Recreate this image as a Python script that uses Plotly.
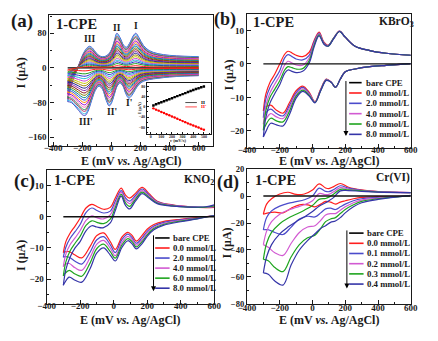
import plotly.graph_objects as go

W, H = 438, 341
SERIF = "Liberation Serif, Times New Roman, serif"
INK = "#1a1a1a"

# ---------------- (a) CVs at scan rates 25-500 mV/s ----------------
a_scan_rates = [25, 50, 75, 100, 125, 150, 175, 200, 225, 250,
                275, 300, 325, 350, 375, 400, 425, 450, 475, 500]
a_ipa_II = [5, 10, 14, 18, 22, 26, 30, 34, 38, 42, 46, 50, 54, 58, 62, 66, 70, 73, 77, 80]
a_ipc_II = [-6, -11, -15, -20, -24, -29, -33, -38, -42, -47, -51, -56, -60, -65, -69, -73, -77, -81, -86, -90]
# outermost voltammogram (500 mV/s)
a_up_x = [-300, -290, -270, -245, -220, -190, -165, -150, -130, -105, -75, -50, -25, 0, 20, 38,
          60, 85, 105, 130, 150, 168, 190, 220, 260, 320, 400, 500, 600]
a_up_y = [-78, -60, -35, -12, 10, 35, 47, 50, 46, 35, 27, 26, 30, 42, 62, 80,
          70, 52, 48, 60, 74, 80, 70, 52, 40, 33, 29, 27, 26]
a_down_x = [600, 500, 400, 320, 260, 220, 190, 165, 140, 120, 100, 80, 60, 40, 20, 0, -15, -35,
            -60, -85, -110, -135, -160, -180, -200, -225, -250, -275, -300]
a_down_y = [-18, -19, -21, -24, -27, -31, -38, -50, -64, -70, -60, -42, -35, -42, -62, -82, -88, -75,
            -50, -42, -52, -75, -100, -110, -108, -98, -88, -80, -78]
a_colors = ["#FF1A1A", "#1E9E1E", "#2F2FD0", "#20B8D8", "#D040D0", "#C8C800", "#A08000",
            "#20208A", "#8A2BB0", "#8B1A1A", "#7A7A00", "#008B8B", "#3050E0", "#FF8C00",
            "#9400D3", "#FF69B4", "#2E8B57", "#B03060", "#3CB8E8", "#4646C8"]

# ---------------- (b) KBrO3 ----------------
b_labels = ["0.0 mmol/L", "2.0 mmol/L", "4.0 mmol/L", "6.0 mmol/L", "8.0 mmol/L"]
b_up_x = [-300, -285, -260, -230, -200, -170, -150, -125, -100, -60, -20, 10, 40, 70, 95, 130,
          165, 200, 260, 350, 450, 600]
b_up_y = [
    [-14, -9, -5.5, -3, 0, 2.9, 3.8, 3.3, 2.6, 2.2, 3.5, 7, 9.5, 6.5, 5.6, 7.8, 9.8, 8, 5.3, 4, 3.2, 2.6],
    [-16, -10.5, -7, -4.5, -2, 1.8, 2.8, 2.2, 1.5, 1.2, 2.6, 6.6, 9.2, 6.3, 5.5, 7.8, 9.8, 8, 5.3, 4, 3.2, 2.6],
    [-18, -12.5, -8.7, -6, -3.5, -0.3, 0.8, 0.3, -0.3, -0.4, 1.8, 6.1, 9.0, 6.1, 5.4, 7.7, 9.7, 8, 5.3, 4, 3.2, 2.6],
    [-19.8, -14, -10, -7.5, -5, -1.8, -0.8, -1.1, -1.5, -1.4, 1.0, 5.6, 8.7, 6.0, 5.3, 7.7, 9.7, 8, 5.3, 4, 3.2, 2.6],
    [-21.8, -16, -11.7, -8.8, -6.2, -2.8, -1.8, -2.2, -2.6, -2.2, 0.3, 5.1, 8.4, 5.9, 5.3, 7.6, 9.7, 8, 5.3, 4, 3.2, 2.6],
]
b_down_x = [600, 450, 350, 260, 200, 170, 140, 115, 85, 50, 15, -20, -60, -100, -140, -180, -220,
            -255, -285, -300]
b_down_y = [
    [0.1, -0.4, -0.8, -1.5, -2.3, -4.5, -7, -5.5, -4.5, -7.5, -11.3, -8.5, -6.6, -8, -11.5, -14.7, -13.8, -12.3, -12.8, -14],
    [0.1, -0.4, -0.8, -1.5, -2.3, -4.5, -7, -5.5, -4.6, -7.7, -11.4, -8.8, -7.0, -8.6, -12.3, -15.5, -14.8, -13.5, -14.6, -16],
    [0.1, -0.4, -0.8, -1.5, -2.3, -4.5, -7, -5.5, -4.7, -7.8, -11.4, -9.0, -7.4, -9.1, -13.0, -16.3, -15.8, -14.8, -16.5, -18],
    [0.1, -0.4, -0.8, -1.5, -2.3, -4.5, -7, -5.5, -4.8, -7.9, -11.5, -9.3, -7.8, -9.6, -14.0, -17.3, -17.0, -16.2, -18.2, -19.8],
    [0.1, -0.4, -0.8, -1.5, -2.3, -4.5, -7, -5.5, -4.9, -8.0, -11.6, -9.6, -8.2, -10.2, -15.0, -18.5, -18.2, -17.7, -20.2, -21.8],
]

# ---------------- (c) KNO2 ----------------
c_labels = ["0.0 mmol/L", "2.0 mmol/L", "4.0 mmol/L", "6.0 mmol/L", "8.0 mmol/L"]
c_up_x = [-300, -285, -260, -230, -200, -165, -130, -100, -60, -20, 10, 45, 70, 95, 130, 170,
          210, 260, 350, 450, 550, 600]
c_up_y = [
    [-11.5, -8, -5.3, -3, -0.5, 2.8, 4.0, 3.3, 2.4, 3, 6, 9.2, 7, 6, 7.5, 9.4, 7.5, 5, 3.8, 3.2, 2.9, 3.0],
    [-13, -9.8, -7, -4.8, -2.5, 1.3, 2.8, 2.0, 1.2, 1.8, 5, 8.4, 6.1, 5, 6.8, 8.9, 7.1, 4.8, 3.7, 3.2, 3.0, 3.2],
    [-16, -12, -9, -6.8, -4.5, -1.2, 0.3, -0.3, -0.7, 0.6, 4, 7.8, 5.3, 4.2, 6.2, 8.4, 6.7, 4.6, 3.6, 3.2, 3.0, 3.3],
    [-19, -14.5, -11, -8.5, -6.3, -2.8, -1.3, -1.8, -2.2, -0.8, 3, 7.2, 4.5, 3.3, 5.6, 7.9, 6.3, 4.4, 3.5, 3.1, 3.1, 3.5],
    [-22, -17, -13, -10, -8, -4.5, -2.9, -3.3, -3.5, -2.0, 2, 6.6, 3.7, 2.5, 5.0, 7.4, 6.0, 4.2, 3.4, 3.1, 3.2, 3.8],
]
c_down_x = [600, 500, 400, 300, 240, 200, 170, 135, 110, 85, 50, 10, -20, -60, -100, -140, -190,
            -230, -265, -290, -300]
c_down_y = [
    [0.4, -0.3, -0.8, -1.5, -2.5, -4, -6, -7.8, -6, -5, -6.5, -10.5, -8, -5.2, -6, -9.5, -13.2, -12.3, -11.2, -11.3, -11.5],
    [0.4, -0.4, -1, -1.8, -3, -4.7, -6.8, -8.5, -6.7, -5.6, -7.3, -11.5, -9, -6.4, -7.4, -11.3, -15.2, -14.3, -13, -12.8, -13],
    [0.4, -0.5, -1.2, -2.1, -3.4, -5.2, -7.4, -9.1, -7.3, -6.3, -8.2, -12.5, -10.1, -7.6, -8.8, -13, -17.2, -16.4, -15, -15.3, -16],
    [0.4, -0.6, -1.4, -2.4, -3.8, -5.8, -8.0, -9.7, -8, -7, -9, -13.3, -11.2, -8.8, -10.2, -14.8, -19.1, -18.4, -17.2, -18.2, -19],
    [0.4, -0.7, -1.6, -2.7, -4.2, -6.3, -8.6, -10.3, -8.7, -7.7, -9.8, -14.2, -12.3, -10, -11.6, -16.6, -21.0, -20.4, -19.4, -21, -22],
]

# ---------------- (d) Cr(VI) ----------------
d_labels = ["0.0 mmol/L", "0.1 mmol/L", "0.2 mmol/L", "0.3 mmol/L", "0.4 mmol/L"]
d_up_x = [-300, -280, -250, -200, -150, -100, -50, 0, 40, 80, 100, 130, 170, 220, 300, 400, 600]
d_up_y = [
    [-13.5, -6, -2, 1.5, 2.8, 1.2, 1.5, 4.5, 9, 6, 5.5, 7, 9.3, 6.5, 4.5, 3.3, 2.5],
    [-25, -16, -11, -7.5, -5.5, -4.2, -2.8, 0, 5.8, 3.5, 3.2, 4.8, 7.6, 5.8, 4.2, 3.2, 2.5],
    [-36, -26, -19, -13.5, -10.5, -8.5, -6.5, -3.5, 1.8, 1.0, 1.2, 3.2, 6.2, 5.2, 4.0, 3.1, 2.5],
    [-47, -35, -27, -20.5, -16.5, -13.5, -10.5, -7, -2.5, -1.8, -0.8, 1.5, 4.9, 4.6, 3.8, 3.0, 2.5],
    [-57, -45, -36, -28, -23, -19, -15.5, -11.5, -7.5, -5, -3.5, -1, 3.8, 4.0, 3.5, 2.9, 2.5],
]
d_down_x = [600, 400, 300, 250, 200, 170, 140, 110, 80, 50, 15, -30, -80, -130, -180, -230, -270, -300]
d_down_y = [
    [0, -0.5, -1, -2, -3.5, -4.5, -6, -4.5, -4, -6, -8, -6.5, -6.5, -9, -12.5, -12, -12.5, -13.5],
    [0, -1, -2, -3.5, -6, -8, -10, -9, -9.5, -12.5, -15.5, -15, -17, -23, -28.5, -27, -25, -25],
    [0.3, -1.5, -3, -5, -8, -10.5, -13, -13, -14, -18, -22, -23, -27, -35, -44, -42, -38, -36],
    [0.3, -2, -4, -6.5, -10, -13, -16, -17, -19, -24, -29, -31, -36, -45, -56, -53, -48, -47],
    [0.5, -2.5, -5, -8, -12.5, -16, -18.5, -19.5, -22, -24, -28, -33, -40, -51, -66, -63, -58, -57],
]

bare_x = [-300, 600]
bare_y = [0, 0]
series_colors = ["#FF1E1E", "#4B4BCB", "#D25AD2", "#1FA51F", "#3535A8"]

# ---------------- helpers ----------------
def px_x(x):
    return x / W


def px_y(y):
    return 1 - y / H


fig = go.Figure()

AX = {"a": ("x", "y"), "b": ("x2", "y2"), "c": ("x3", "y3"), "d": ("x4", "y4"), "i": ("x5", "y5")}


def line(panel, x, y, color, width=1.1):
    xa, ya = AX[panel]
    fig.add_trace(go.Scatter(x=x, y=y, mode="lines", xaxis=xa, yaxis=ya,
                             line=dict(color=color, width=width, shape="spline", smoothing=1.0),
                             showlegend=False, hoverinfo="skip"))


# (a)
line("a", bare_x, bare_y, "#000000", 1.3)
ref = a_ipa_II[-1]
for i in range(len(a_scan_rates) - 1, -1, -1):
    s = a_ipa_II[i] / ref
    line("a", a_up_x, [v * s for v in a_up_y], a_colors[i], 1.0)
    line("a", a_down_x, [v * s for v in a_down_y], a_colors[i], 1.0)

# (b), (c), (d)
for panel, ux, uy, dx, dy in (("b", b_up_x, b_up_y, b_down_x, b_down_y),
                              ("c", c_up_x, c_up_y, c_down_x, c_down_y),
                              ("d", d_up_x, d_up_y, d_down_x, d_down_y)):
    for k in range(len(uy)):
        line(panel, ux, uy[k], series_colors[k], 1.2)
        line(panel, dx, dy[k], series_colors[k], 1.2)
    line(panel, bare_x, bare_y, "#111111", 1.3)

# inset
fig.add_trace(go.Scatter(x=a_scan_rates, y=a_ipa_II, mode="lines+markers", xaxis="x5", yaxis="y5",
                         line=dict(color="#000000", width=0.7),
                         marker=dict(symbol="square", size=2.4, color="#000000"),
                         showlegend=False, hoverinfo="skip"))
fig.add_trace(go.Scatter(x=a_scan_rates, y=a_ipc_II, mode="lines+markers", xaxis="x5", yaxis="y5",
                         line=dict(color="#FF0000", width=0.7),
                         marker=dict(symbol="circle", size=2.4, color="#FF0000"),
                         showlegend=False, hoverinfo="skip"))

# ---------------- axes ----------------
def axis(domain, rng, tick0, dtick, mdtick, anchor, fsize=9, tlen=4, standoff=0):
    return dict(domain=domain, range=rng, anchor=anchor, tickmode="linear", tick0=tick0, dtick=dtick,
                showline=True, linecolor=INK, linewidth=1.2, mirror=True, ticks="inside",
                ticklen=tlen, tickwidth=1, tickcolor=INK, ticklabelstandoff=standoff,
                minor=dict(ticks="inside", ticklen=tlen / 2, dtick=mdtick, tickcolor=INK, tickwidth=0.8),
                showgrid=False, zeroline=False,
                tickfont=dict(family=SERIF, size=fsize, color=INK, weight="bold"))


def dx_(l, r):
    return [l / W, r / W]


def dy_(t, b):
    return [1 - b / H, 1 - t / H]


fig.update_layout(
    xaxis=axis(dx_(42, 212), [-425, 700], -400, 200, 100, "y", standoff=-7),
    yaxis=axis(dy_(10, 145), [-180, 123], -160, 80, 40, "x"),
    xaxis2=axis(dx_(247, 417), [-400, 600], -400, 200, 100, "y2", standoff=-7),
    yaxis2=axis(dy_(9, 147), [-25, 15], -20, 10, 5, "x2"),
    xaxis3=axis(dx_(39, 213), [-400, 600], -400, 200, 100, "y3", standoff=-7),
    yaxis3=axis(dy_(170, 308), [-28, 15], -20, 10, 5, "x3"),
    xaxis4=axis(dx_(247, 417), [-400, 600], -400, 200, 100, "y4", standoff=-5),
    yaxis4=axis(dy_(169, 308), [-80, 20], -80, 20, 10, "x4", fsize=8.5),
    xaxis5=axis(dx_(143, 210), [-37, 570], 0, 100, 50, "y5", fsize=4, tlen=2, standoff=-2),
    yaxis5=axis(dy_(80, 133), [-107, 95], -80, 40, 20, "x5", fsize=4, tlen=2),
)
fig.layout.xaxis5.linewidth = 0.7
fig.layout.yaxis5.linewidth = 0.7

# ---------------- text ----------------
ann = []


def text(x, y, s, size, xanchor="center", angle=0, color=INK):
    ann.append(dict(x=px_x(x), y=px_y(y), xref="paper", yref="paper", text=s, showarrow=False,
                    xanchor=xanchor, yanchor="middle", textangle=angle,
                    font=dict(family=SERIF, size=size, color=color, weight="bold")))


# panel letters
text(13, 16, "(a)", 19)
text(224, 15, "(b)", 18)
text(16, 181, "(c)", 19)
text(227, 183, "(d)", 18)
# 1-CPE
text(47, 20, "1-CPE", 14.5, "left")
text(251, 18, "1-CPE", 14.5, "left")
text(45, 180, "1-CPE", 14.5, "left")
text(253, 180, "1-CPE", 14.5, "left")
# analytes
text(422, 17, "KBrO<sub>3</sub>", 11.5, "right")
text(215, 180, "KNO<sub>2</sub>", 11.5, "right")
text(418, 178, "Cr(VI)", 11.5, "right")
# axis titles
xt = "E (mV <i>vs.</i> Ag/AgCl)"
text(127, 161, xt, 12)
text(332, 161, xt, 12)
text(126, 325, xt, 12)
text(332, 325, xt, 12)
yt = "I (μA)"
text(12, 70, yt, 12, angle=-90)
text(228, 72, yt, 12, angle=-90)
text(13, 258, yt, 12, angle=-90)
text(226, 245, yt, 12, angle=-90)
# inset titles
text(136, 106, yt, 4.5, angle=-90)
text(176, 140, "<i>v</i> (mV/s)", 4.5)

# peak labels in (a)
for lx, ly, s in ((-150, 66, "III"), (40, 92, "II"), (168, 96, "I"),
                  (-172, -124, "III'"), (3, -101, "II'"), (118, -81, "I'")):
    ann.append(dict(x=lx, y=ly, xref="x", yref="y", text=s, showarrow=False,
                    font=dict(family=SERIF, size=9.5, color=INK, weight="bold")))

# manual legends
shapes = []


def legend(labels, colors, y0, dy, lx0, lx1, tx, ax_, ay0, ay1):
    names = ["bare CPE"] + list(labels)
    cols = ["#000000"] + list(colors)
    for k, (nm, col) in enumerate(zip(names, cols)):
        yy = y0 + k * dy
        shapes.append(dict(type="line", xref="paper", yref="paper", x0=px_x(lx0), x1=px_x(lx1),
                           y0=px_y(yy), y1=px_y(yy), line=dict(color=col, width=1.6)))
        text(tx, yy, nm, 8.8, "left")
    ann.append(dict(x=px_x(ax_), y=px_y(ay1), xref="paper", yref="paper", text=" ",
                    showarrow=True, ax=0, ay=-(ay1 - ay0), axref="pixel", ayref="pixel",
                    arrowhead=2, arrowsize=1.0, arrowwidth=1, arrowcolor="#000000",
                    font=dict(size=1)))


legend(b_labels, series_colors, 80, 10.65, 353, 366, 368, 349.7, 78, 135)
legend(c_labels, series_colors, 240, 10.35, 151.7, 166.7, 168.5, 150, 237, 295)
legend(d_labels, series_colors, 235, 10.5, 353, 368, 370, 350.7, 232, 292)

# inset legend
for yy, s, col in ((100.5, "II", "#000000"), (105, "II'", "#FF0000")):
    shapes.append(dict(type="line", xref="paper", yref="paper", x0=px_x(183), x1=px_x(195),
                       y0=px_y(yy), y1=px_y(yy), line=dict(color=col, width=0.7)))
    ann.append(dict(x=px_x(197), y=px_y(yy), xref="paper", yref="paper", text=s, showarrow=False,
                    xanchor="left", yanchor="middle",
                    font=dict(family=SERIF, size=5, color=col, weight="bold")))

fig.update_layout(
    width=W, height=H, margin=dict(l=0, r=0, t=0, b=0),
    paper_bgcolor="white", plot_bgcolor="#ffffff",
    font=dict(family=SERIF, color=INK, weight="bold"),
    annotations=ann, shapes=shapes, showlegend=False,
)

fig.write_html("out.html", config={"displayModeBar": False},
               post_script="document.body.style.margin='0px';")
